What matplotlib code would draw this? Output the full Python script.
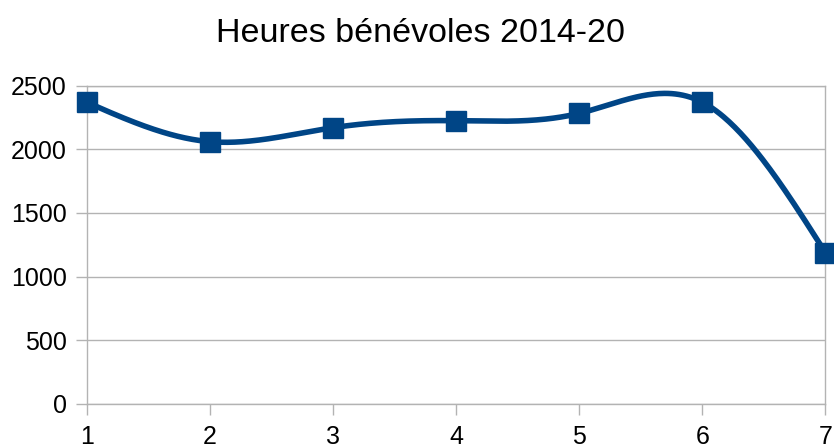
import numpy as np
import matplotlib
matplotlib.use("Agg")
import matplotlib.pyplot as plt

x_vals = [1, 2, 3, 4, 5, 6, 7]
hours = [2370, 2060, 2170, 2225, 2283, 2370, 1187]
y_ticks = [0, 500, 1000, 1500, 2000, 2500]
title = "Heures bénévoles 2014-20"

color = "#004586"
grid_c = "#b3b3b3"


def natural_spline(x, y, n=400):
    x = np.asarray(x, float)
    y = np.asarray(y, float)
    k = len(x)
    h = np.diff(x)
    A = np.zeros((k, k))
    b = np.zeros(k)
    A[0, 0] = 1
    A[-1, -1] = 1
    for i in range(1, k - 1):
        A[i, i - 1] = h[i - 1]
        A[i, i] = 2 * (h[i - 1] + h[i])
        A[i, i + 1] = h[i]
        b[i] = 3 * ((y[i + 1] - y[i]) / h[i] - (y[i] - y[i - 1]) / h[i - 1])
    c = np.linalg.solve(A, b)
    xs = np.linspace(x[0], x[-1], n)
    ys = np.empty_like(xs)
    for j, xv in enumerate(xs):
        i = min(np.searchsorted(x, xv, side="right") - 1, k - 2)
        dx = xv - x[i]
        bi = (y[i + 1] - y[i]) / h[i] - h[i] * (2 * c[i] + c[i + 1]) / 3
        di = (c[i + 1] - c[i]) / (3 * h[i])
        ys[j] = y[i] + bi * dx + c[i] * dx ** 2 + di * dx ** 3
    return xs, ys


plt.rcParams["font.family"] = ["Liberation Sans", "DejaVu Sans"]
fig = plt.figure(figsize=(8.34, 4.45), dpi=100)
ax = fig.add_axes([0.104, 0.0928, 0.8858, 0.7146])

xs, ys = natural_spline(x_vals, hours)
ax.plot(xs, ys, color=color, lw=4, solid_capstyle="round", clip_on=False, zorder=3)
ax.plot(x_vals, hours, linestyle="none", marker="s", markersize=14.5,
        color=color, clip_on=False, zorder=4)

ax.set_xlim(1, 7)
ax.set_ylim(0, 2500)
ax.set_xticks(x_vals)
ax.set_yticks(y_ticks)
ax.grid(axis="y", color=grid_c, lw=1)
ax.grid(axis="x", visible=False)
for s in ax.spines.values():
    s.set_color(grid_c)
    s.set_linewidth(1)
ax.tick_params(axis="both", colors=grid_c, labelcolor="black", length=8,
               width=1, labelsize=18)
ax.tick_params(axis="y", pad=6.5)
ax.tick_params(axis="x", pad=7)
ax.set_axisbelow(True)

fig.suptitle(title, x=0.504, y=0.96, fontsize=24.5)

fig.savefig("out.png", dpi=100)
